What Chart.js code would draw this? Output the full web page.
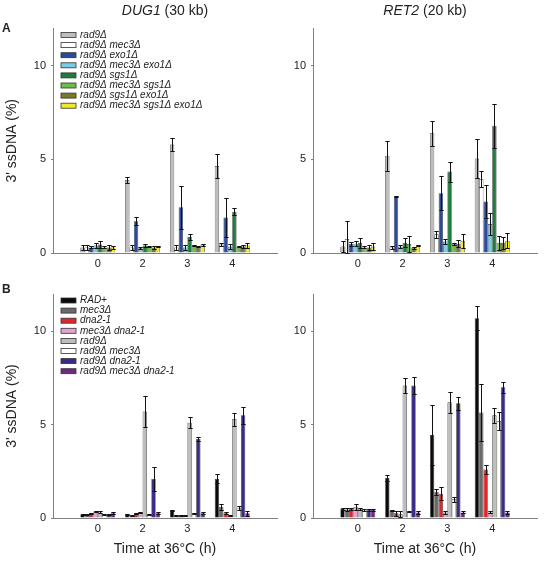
<!DOCTYPE html>
<html>
<head>
<meta charset="utf-8">
<script src="https://cdn.jsdelivr.net/npm/chart.js@4.4.1/dist/chart.umd.min.js"></script>
<style>
  body { margin: 0; background: #fff; font-family: 'Liberation Sans', Arial, sans-serif; color: #222; }
  #wrap { position: relative; width: 551px; height: 563px; overflow: hidden; }
  canvas { position: absolute; }
  .lbl { position: absolute; white-space: nowrap; line-height: 1; }
  .head { font-size: 14px; text-align: center; width: 224px; }
</style>
</head>
<body>
<div id="wrap">
  <canvas id="cA1" width="281" height="272" style="left:0;top:0"></canvas>
  <canvas id="cA2" width="270" height="272" style="left:281px;top:0"></canvas>
  <canvas id="cB1" width="281" height="291" style="left:0;top:272px"></canvas>
  <canvas id="cB2" width="270" height="291" style="left:281px;top:272px"></canvas>
  <div class="lbl" style="left:2px;top:22px;font-weight:bold;font-size:12px">A</div>
  <div class="lbl" style="left:2px;top:283px;font-weight:bold;font-size:12px">B</div>
  <div class="lbl head" style="left:53px;top:3px"><i>DUG1</i> (30 kb)</div>
  <div class="lbl head" style="left:313px;top:3px"><i>RET2</i> (20 kb)</div>
</div>
<script>
// ── Data ──────────────────────────────────────────────────────────────────────
const timeLabels = ['0', '2', '3', '4'];

// Panel A strains
const strainsA = [
  'rad9Δ', 'rad9Δ mec3Δ', 'rad9Δ exo1Δ', 'rad9Δ mec3Δ exo1Δ',
  'rad9Δ sgs1Δ', 'rad9Δ mec3Δ sgs1Δ', 'rad9Δ sgs1Δ exo1Δ', 'rad9Δ mec3Δ sgs1Δ exo1Δ',
];
const colorsA = ['#bdbdbd', '#ffffff', '#2c4a9b', '#78cde6', '#1c7d3c', '#6cbf46', '#767a2a', '#f2ea25'];

// rows = strains, columns = time points
const dug1A = [
  [0.3, 3.9, 5.8, 4.65],
  [0.3, 0.3, 0.3, 0.45],
  [0.3, 1.7, 2.45, 1.9],
  [0.4, 0.25, 0.3, 0.35],
  [0.45, 0.4, 0.85, 2.2],
  [0.3, 0.35, 0.4, 0.35],
  [0.3, 0.3, 0.35, 0.35],
  [0.3, 0.35, 0.45, 0.4],
];
const dug1AErr = [
  [0.15, 0.15, 0.33, 0.65],
  [0.15, 0.15, 0.12, 0.1],
  [0.05, 0.2, 1.15, 1.05],
  [0.15, 0.05, 0.15, 0.12],
  [0.2, 0.1, 0.18, 0.18],
  [0.05, 0.05, 0.05, 0.05],
  [0.12, 0.08, 0.05, 0.08],
  [0.1, 0.05, 0.05, 0.12],
];
const ret2A = [
  [0.35, 5.2, 6.4, 5.05],
  [0.75, 0.3, 1.0, 3.95],
  [0.5, 3.0, 3.2, 2.75],
  [0.5, 0.35, 0.62, 1.55],
  [0.55, 0.55, 4.35, 6.8],
  [0.3, 0.48, 0.5, 0.55],
  [0.3, 0.28, 0.5, 0.55],
  [0.35, 0.4, 0.65, 0.65],
];
const ret2AErr = [
  [0.3, 0.8, 0.68, 1.05],
  [0.95, 0.08, 0.2, 0.43],
  [0.1, 0.03, 0.92, 0.9],
  [0.15, 0.1, 0.12, 0.58],
  [0.27, 0.25, 0.53, 1.17],
  [0.05, 0.45, 0.05, 0.37],
  [0.15, 0.05, 0.2, 0.33],
  [0.2, 0.05, 0.38, 0.4],
];

// Panel B strains
const strainsB = [
  'RAD+', 'mec3Δ', 'dna2-1', 'mec3Δ dna2-1',
  'rad9Δ', 'rad9Δ mec3Δ', 'rad9Δ dna2-1', 'rad9Δ mec3Δ dna2-1',
];
const colorsB = ['#0a0a0a', '#6a6a6a', '#e2262a', '#e5a4cf', '#bdbdbd', '#ffffff', '#3b2a86', '#6d2a83'];

const dug1B = [
  [0.2, 0.2, 0.4, 2.1],
  [0.2, 0.15, 0.15, 0.6],
  [0.25, 0.25, 0.15, 0.25],
  [0.35, 0.3, 0.15, 0.15],
  [0.3, 5.7, 5.1, 5.3],
  [0.2, 0.2, 0.25, 0.55],
  [0.2, 2.1, 4.25, 5.5],
  [0.25, 0.25, 0.25, 0.25],
];
const dug1BErr = [
  [0.03, 0.03, 0.03, 0.25],
  [0.03, 0.03, 0.03, 0.15],
  [0.03, 0.03, 0.03, 0.05],
  [0.05, 0.03, 0.03, 0.03],
  [0.05, 0.85, 0.3, 0.35],
  [0.03, 0.03, 0.03, 0.1],
  [0.03, 0.65, 0.1, 0.45],
  [0.05, 0.05, 0.05, 0.12],
];
const ret2B = [
  [0.5, 2.15, 4.45, 10.7],
  [0.45, 0.4, 1.4, 5.65],
  [0.5, 0.25, 1.3, 2.6],
  [0.6, 0.2, 0.3, 0.3],
  [0.5, 7.1, 6.2, 5.5],
  [0.45, 0.35, 1.0, 5.2],
  [0.45, 7.1, 6.15, 7.0],
  [0.45, 0.3, 0.3, 0.3],
];
const ret2BErr = [
  [0.05, 0.15, 1.6, 0.65],
  [0.1, 0.05, 0.15, 1.55],
  [0.05, 0.15, 0.35, 0.25],
  [0.15, 0.15, 0.1, 0.05],
  [0.05, 0.4, 0.55, 0.4],
  [0.05, 0.05, 0.15, 0.5],
  [0.05, 0.45, 0.35, 0.3],
  [0.05, 0.1, 0.05, 0.1],
];

// ── Shared look ───────────────────────────────────────────────────────────────
const FONT = "'Liberation Sans', Arial, sans-serif";
const AXIS_COLOR = '#808080';
Chart.defaults.font.family = FONT;
Chart.defaults.color = '#222';

// Error bars: symmetric whiskers with caps, drawn over the bars
const errorBars = {
  id: 'errorBars',
  afterDatasetsDraw(chart) {
    const { ctx, scales: { y } } = chart;
    ctx.save();
    ctx.strokeStyle = '#111';
    ctx.lineWidth = 1;
    chart.data.datasets.forEach((ds, i) => {
      chart.getDatasetMeta(i).data.forEach((bar, j) => {
        const e = ds.errors[j];
        if (!e) return;
        const v = ds.data[j].y;
        const top = Math.round(y.getPixelForValue(v + e)) + 0.5;
        const bot = Math.round(y.getPixelForValue(Math.max(v - e, 0))) + 0.5;
        const x = Math.round(bar.x) + 0.5;
        const hw = bar.width / 2;
        ctx.beginPath();
        ctx.moveTo(x, top); ctx.lineTo(x, bot);
        ctx.moveTo(x - hw, top); ctx.lineTo(x + hw, top);
        ctx.moveTo(x - hw, bot); ctx.lineTo(x + hw, bot);
        ctx.stroke();
      });
    });
    ctx.restore();
  },
};

// Legend box stacked in the top-left corner of the plot area
const cornerLegend = {
  id: 'cornerLegend',
  afterDraw(chart, args, opts) {
    if (!opts.show) return;
    const { ctx, chartArea } = chart;
    const x0 = chartArea.left + 8;
    const y0 = chartArea.top + 6.5;
    ctx.save();
    ctx.font = `italic 10px ${FONT}`;
    ctx.textBaseline = 'middle';
    chart.data.datasets.forEach((ds, i) => {
      const yy = y0 + i * 10.1;
      ctx.fillStyle = ds.backgroundColor;
      ctx.fillRect(x0, yy - 2.5, 15, 5);
      ctx.strokeStyle = '#333';
      ctx.lineWidth = 0.8;
      ctx.strokeRect(x0, yy - 2.5, 15, 5);
      ctx.fillStyle = '#222';
      ctx.fillText(ds.label, x0 + 19, yy);
    });
    ctx.restore();
  },
};

function makePanel(id, means, errs, names, colors, opt) {
  const datasets = names.map((name, i) => ({
    label: name,
    data: means[i].map((v, j) => ({ x: j, y: v })),
    errors: errs[i],
    backgroundColor: colors[i],
    borderColor: '#3a3a3a',
    borderWidth: 0.7,
    categoryPercentage: 0.78,
    barPercentage: 1,
  }));

  return new Chart(document.getElementById(id), {
    type: 'bar',
    data: { datasets },
    plugins: [errorBars, cornerLegend],
    options: {
      responsive: false,
      animation: false,
      events: [],
      layout: { padding: { left: 0, right: opt.padRight, top: opt.padTop, bottom: 0 } },
      plugins: {
        legend: { display: false },
        tooltip: { enabled: false },
        cornerLegend: { show: opt.legend },
      },
      scales: {
        x: {
          type: 'linear',
          min: -1,
          max: 4,
          offset: false,
          afterBuildTicks: (s) => { s.ticks = timeLabels.map((_, i) => ({ value: i })); },
          afterFit: (s) => { s.height = opt.xHeight; },
          grid: { drawOnChartArea: false, drawTicks: false, color: AXIS_COLOR },
          border: { color: AXIS_COLOR, width: 1 },
          ticks: {
            font: { size: 11 },
            padding: 4,
            maxRotation: 0,
            autoSkip: false,
            callback: (v) => timeLabels[v] ?? '',
          },
          title: {
            display: opt.xTitle,
            text: 'Time at 36°C (h)',
            font: { size: 14 },
            padding: { top: 0, bottom: 5 },
          },
        },
        y: {
          min: 0,
          max: 12,
          afterFit: (s) => { s.width = opt.yWidth; },
          grid: { drawOnChartArea: false, tickLength: 2, color: AXIS_COLOR },
          border: { color: AXIS_COLOR, width: 1 },
          ticks: { stepSize: 5, includeBounds: false, font: { size: 11 }, padding: 5 },
          title: {
            display: opt.yTitle,
            text: "3' ssDNA (%)",
            font: { size: 14 },
            padding: { top: 4, bottom: 0 },
          },
        },
      },
    },
  });
}

makePanel('cA1', dug1A, dug1AErr, strainsA, colorsA,
  { padTop: 28.5, padRight: 4, yWidth: 53, xHeight: 19, legend: true, yTitle: true, xTitle: false });
makePanel('cA2', ret2A, ret2AErr, strainsA, colorsA,
  { padTop: 28.5, padRight: 14, yWidth: 32, xHeight: 19, legend: false, yTitle: false, xTitle: false });
makePanel('cB1', dug1B, dug1BErr, strainsB, colorsB,
  { padTop: 22, padRight: 4, yWidth: 53, xHeight: 45, legend: true, yTitle: true, xTitle: true });
makePanel('cB2', ret2B, ret2BErr, strainsB, colorsB,
  { padTop: 22, padRight: 14, yWidth: 32, xHeight: 45, legend: false, yTitle: false, xTitle: true });
</script>
</body>
</html>
